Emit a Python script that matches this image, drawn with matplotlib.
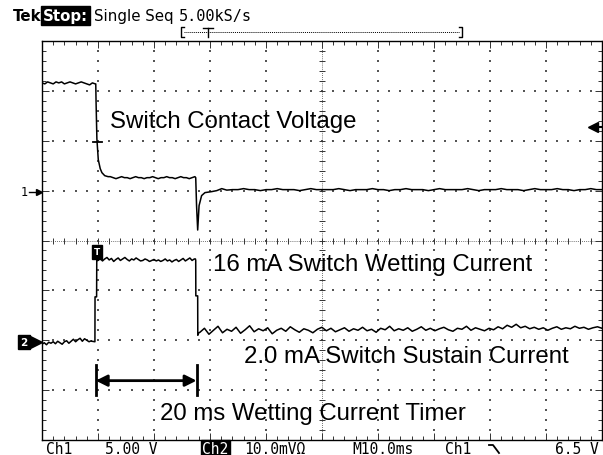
import numpy as np
import matplotlib.pyplot as plt
from matplotlib.ticker import MultipleLocator

# Screen is 10 div x 10 ms/div, 8 div high.
# Ch1: 5 V/div, ground marker at 5.0 div.  Ch2: 10 mV/div over 1 ohm -> 10 mA/div, ground at 2.0 div
ch1_gnd, ch1_vdiv = 5.0, 5.0
ch2_gnd, ch2_mdiv = 2.0, 10.0

# ---- Ch1: switch contact voltage (V) ----
ch1_pre = [10.8, 10.7, 10.9, 10.8, 10.7, 10.9, 10.8, 10.9, 10.7, 10.8,
           10.9, 10.8, 10.7, 10.8, 10.9, 10.8, 10.7, 10.6, 10.8, 10.7]      # 0 .. 9.5 ms
ch1_edge_t = [9.6, 9.65, 9.8, 10.05, 10.4, 10.7, 11.2, 11.8]
ch1_edge_v = [10.7, 9.0, 5.2, 3.1, 2.2, 1.8, 1.5, 1.4]
ch1_mid = [1.4, 1.3, 1.2, 1.3, 1.4, 1.3, 1.3, 1.2, 1.3, 1.4, 1.3, 1.3, 1.2, 1.3, 1.3, 1.4,
           1.3, 1.2, 1.3, 1.3, 1.4, 1.3, 1.3, 1.2, 1.3, 1.4, 1.3, 1.3, 1.2, 1.3, 1.4]  # 12.2 .. 27.3 ms
ch1_spike_t = [27.45, 27.6, 27.8, 28.05, 28.5, 29.1, 30.3, 31.2, 32.1, 33.0]
ch1_spike_v = [1.3, -1.5, -3.95, -1.5, -0.5, -0.2, -0.1, 0.0, 0.2, 0.05]
ch1_post = [0.1, 0.1, 0.2, 0.1, 0.1, 0.0, 0.1, 0.1, 0.2, 0.1, 0.1, 0.1, 0.0, 0.1, 0.2, 0.1,
            0.1, 0.1, 0.1, 0.2, 0.1, 0.0, 0.1, 0.1, 0.1, 0.2, 0.1, 0.1, 0.0, 0.1, 0.1, 0.2,
            0.1, 0.1, 0.1, 0.0, 0.1, 0.2, 0.1, 0.1, 0.1, 0.1, 0.2, 0.1, 0.0, 0.1, 0.1, 0.1,
            0.2, 0.1, 0.1, 0.1, 0.0, 0.1, 0.2, 0.1, 0.1, 0.1, 0.2, 0.1, 0.1, 0.0, 0.1, 0.1,
            0.2, 0.1, 0.1]                                                    # 34 .. 100 ms

# ---- Ch2: switch current (mA) ----
ch2_pre = [-0.8, -0.5, -0.9, -0.4, -0.6, -0.3, -0.7, -0.2, -0.5, -0.8, -0.3, -0.1,
           -0.6, -0.2, 0.2, -0.3, 0.1, 0.4, -0.2, 0.3, 0.0, -0.3, -0.1]     # 0 .. 8.8 ms
ch2_rise_t = [8.9, 9.45, 9.47, 9.75, 9.78, 9.9]
ch2_rise_i = [-0.2, -0.3, 8.7, 8.7, 16.4, 16.0]
ch2_wet = [16.0, 16.4, 15.9, 16.3, 16.6, 16.1, 16.4, 15.8, 16.2, 16.5, 16.0, 16.3,
           16.6, 16.2, 15.9, 16.3, 16.1, 16.5, 16.2, 15.9, 16.0, 16.3, 16.1, 15.8,
           16.0, 16.2, 15.9, 16.1, 15.8, 16.0, 16.3, 15.9, 16.1, 15.7, 16.0, 16.2,
           15.8, 16.1, 16.4, 15.9, 16.2, 16.5, 16.0, 16.3]                    # 10.0 .. 27.2 ms
ch2_fall_t = [27.4, 27.45, 27.47, 27.8, 27.82, 28.0]
ch2_fall_i = [16.3, 16.0, 8.9, 8.9, 1.0, 1.5]
ch2_sus = [1.6, 2.4, 1.2, 2.0, 2.8, 1.5, 2.2, 1.8, 2.6, 1.4, 2.1, 2.9, 1.7, 2.3, 1.9,
           2.5, 1.3, 2.0, 2.4, 1.8, 2.7, 2.1, 1.6, 2.3, 2.0, 1.5, 2.2, 2.6, 1.9, 2.4,
           1.7, 2.1, 2.5, 1.8, 2.3, 2.0, 2.6, 1.9, 2.2, 1.6, 2.4, 2.1, 2.8, 1.9, 2.3,
           2.0, 2.5, 1.8, 2.2, 2.7, 2.0, 2.4, 1.9, 2.3, 2.6, 2.1, 1.8, 2.4, 2.2, 2.8,
           2.0, 2.5, 2.2, 1.9, 2.4, 2.1, 2.7, 2.3, 3.0, 2.6, 3.2, 2.5, 2.8, 2.3, 2.6,
           2.2, 2.5, 2.0, 2.4, 2.7, 2.2, 2.5, 2.3, 2.8, 2.4, 2.6, 2.2, 2.5, 2.7, 2.4]  # 28.2 .. 100 ms


def seg(t0, t1, vals):
    return list(np.linspace(t0, t1, len(vals))), list(vals)


def join(*parts):
    t, v = [], []
    for pt, pv in parts:
        t += list(pt)
        v += list(pv)
    return np.array(t), np.array(v)


ch1_t, ch1_v = join(seg(0, 9.5, ch1_pre), (ch1_edge_t, ch1_edge_v), seg(12.2, 27.3, ch1_mid),
                    (ch1_spike_t, ch1_spike_v), seg(34, 100, ch1_post))
ch2_t, ch2_i = join(seg(0, 8.8, ch2_pre), (ch2_rise_t, ch2_rise_i), seg(10.0, 27.2, ch2_wet),
                    (ch2_fall_t, ch2_fall_i), seg(28.2, 100, ch2_sus))

W, H = 603, 456
fig = plt.figure(figsize=(W / 100, H / 100), dpi=100)
ax = fig.add_axes([42 / W, 15 / H, 560 / W, 399 / H])
ax.set_xlim(0, 100)
ax.set_ylim(0, 8)

# graticule
ys = np.arange(0.2, 8.0, 0.2)
xs = np.arange(2, 100, 2)
for gx in [10, 20, 30, 40, 60, 70, 80, 90]:
    ax.scatter(np.full(len(ys), gx), ys, s=1.1, marker='s', c='#555555', linewidths=0, zorder=1)
for gy in [1, 2, 3, 5, 6, 7]:
    ax.scatter(xs, np.full(len(xs), gy), s=1.1, marker='s', c='#555555', linewidths=0, zorder=1)
ax.plot([50, 50], [0, 8], ls=(0, (1, 1.5)), lw=0.6, color='#444444', zorder=1)
ax.plot([0, 100], [4, 4], ls=(0, (1, 1.5)), lw=0.6, color='#444444', zorder=1)
ax.plot(np.full(len(ys), 50), ys, ls='none', marker='_', ms=5, mew=0.7, color='#333333', zorder=1)
ax.plot(xs, np.full(len(xs), 4), ls='none', marker='|', ms=5, mew=0.7, color='#333333', zorder=1)

ax.xaxis.set_major_locator(MultipleLocator(10))
ax.xaxis.set_minor_locator(MultipleLocator(2))
ax.yaxis.set_major_locator(MultipleLocator(1))
ax.yaxis.set_minor_locator(MultipleLocator(0.2))
ax.tick_params(which='both', direction='in', top=True, right=True, bottom=True, left=True,
               labelbottom=False, labelleft=False, width=0.7, color='#333333')
ax.tick_params(which='major', length=5)
ax.tick_params(which='minor', length=3)
for s in ax.spines.values():
    s.set_linewidth(1.0)

# traces
ax.plot(ch1_t, ch1_gnd + ch1_v / ch1_vdiv, color='black', lw=1.1, zorder=3)
ax.plot(ch2_t, ch2_gnd + ch2_i / ch2_mdiv, color='black', lw=1.1, zorder=3)

# trigger marks
ax.plot([9.1, 10.7], [5.97, 5.97], color='black', lw=1.3, zorder=4)
ax.text(9.82, 3.77, 'T', color='white', fontsize=6.5, fontweight='bold', ha='center', va='center',
        bbox=dict(boxstyle='square,pad=0.25', fc='black', ec='black'), zorder=5)
ax.plot([98.4], [6.27], marker='<', ms=7, color='black', ls='none', zorder=5, clip_on=False)
ax.plot([98.6, 100], [6.27, 6.27], color='black', lw=1.5, zorder=5, clip_on=False)

# labels
lab = dict(family=['Liberation Sans', 'Arial', 'DejaVu Sans'], fontsize=17.3, color='black',
           va='baseline', ha='left', zorder=6)
ax.text(12.1, 6.27, 'Switch Contact Voltage', **lab)
ax.text(30.5, 3.41, '16 mA Switch Wetting Current', **lab)
ax.text(36.1, 1.56, '2.0 mA Switch Sustain Current', **lab)
ax.text(21.1, 0.42, '20 ms Wetting Current Timer', **lab)

# 20 ms timer arrow
timer_t0, timer_t1 = 9.6, 27.6
ax.annotate('', xy=(timer_t0, 1.19), xytext=(timer_t1, 1.19),
            arrowprops=dict(arrowstyle='<|-|>', color='black', lw=2.0, mutation_scale=17,
                            shrinkA=0, shrinkB=0), zorder=6)
ax.plot([timer_t0, timer_t0], [0.9, 1.5], color='black', lw=2.0, zorder=6)
ax.plot([timer_t1, timer_t1], [0.9, 1.5], color='black', lw=2.0, zorder=6)

# overlay in pixel units for the scope readouts
ov = fig.add_axes([0, 0, 1, 1])
ov.set_xlim(0, W)
ov.set_ylim(H, 0)
ov.axis('off')

hdr = dict(family='DejaVu Sans', fontsize=10.8, va='baseline', ha='left')
ov.text(13, 21, 'Tek', fontweight='bold', **hdr)
ov.text(43, 21, 'Stop:', fontweight='bold', color='white',
        bbox=dict(boxstyle='square,pad=0.12', fc='black', ec='black'), **hdr)
ov.text(94, 21, 'Single Seq', **hdr)
ov.text(179, 21, '5.00kS/s', family='DejaVu Sans Mono', fontsize=11, va='baseline')

# record bracket
ov.plot([184, 459], [33, 33], ls=(0, (1, 1)), lw=0.7, color='black')
ov.plot([184, 181, 181, 184], [28, 28, 38, 38], lw=1.0, color='black')
ov.plot([459, 462, 462, 459], [28, 28, 38, 38], lw=1.0, color='black')
ov.plot([203, 213], [29, 29], lw=1.0, color='black')
ov.plot([208, 208], [29, 38], lw=1.0, color='black')

# channel ground markers
ov.text(24, 193, '1', family='DejaVu Sans Mono', fontsize=8.5, ha='center', va='center')
ov.plot([29, 37], [193, 193], lw=1.0, color='black')
ov.plot([38.5], [193], marker='>', ms=4.5, color='black')
ov.text(24, 343, '2', family='DejaVu Sans', fontsize=7.5, fontweight='bold', color='white',
        ha='center', va='center', bbox=dict(boxstyle='square,pad=0.2', fc='black', ec='black'))
ov.plot([36], [343], marker='>', ms=8, color='black')

# bottom readout
bot = dict(family='DejaVu Sans Mono', fontsize=10.5, va='top', ha='left')
ov.text(46, 442, 'Ch1', **bot)
ov.text(105, 442, '5.00 V', **bot)
ov.text(202, 442, 'Ch2', color='white', bbox=dict(boxstyle='square,pad=0.1', fc='black', ec='black'), **bot)
ov.text(244, 442, '10.0mV\u03a9', **bot)
ov.text(352, 442, 'M10.0ms', **bot)
ov.text(445, 442, 'Ch1', **bot)
ov.plot([489, 493, 499], [446, 446, 454], lw=1.3, color='black')
ov.text(599, 442, '6.5 V', family='DejaVu Sans Mono', fontsize=10.5, va='top', ha='right')

fig.savefig('out.png', dpi=100, facecolor='white')
